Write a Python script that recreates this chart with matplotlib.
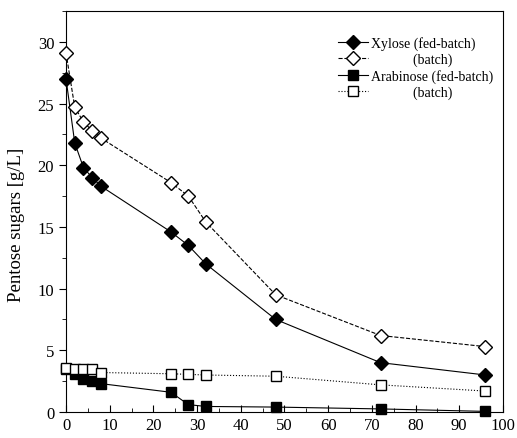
import matplotlib.pyplot as plt
from matplotlib.ticker import MultipleLocator

# sampling times [h]
time = [0, 2, 4, 6, 8, 24, 28, 32, 48, 72, 96]

# pentose sugars [g/L]
xylose_fed = [27.0, 21.8, 19.8, 19.0, 18.3, 14.6, 13.5, 12.0, 7.5, 4.0, 3.0]
xylose_batch = [29.1, 24.7, 23.5, 22.8, 22.2, 18.6, 17.5, 15.4, 9.5, 6.2, 5.3]
arabinose_fed = [3.5, 3.1, 2.7, 2.5, 2.3, 1.6, 0.6, 0.45, 0.4, 0.25, 0.05]
arabinose_batch = [3.6, 3.5, 3.5, 3.5, 3.2, 3.1, 3.05, 3.0, 2.9, 2.2, 1.7]

plt.rcParams['font.family'] = ['Liberation Serif', 'DejaVu Serif']

fig = plt.figure(figsize=(5.17, 4.39), dpi=100)
ax = fig.add_axes([0.1277, 0.0592, 0.845, 0.9135])

pad = ' ' * 12
ax.plot(time, xylose_fed, 'k-', marker='D', ms=7.5, mfc='k', lw=0.8,
        clip_on=False, zorder=3, label='Xylose (fed-batch)')
ax.plot(time, xylose_batch, 'k--', marker='D', ms=7.5, mfc='white', lw=0.8,
        clip_on=False, zorder=3, label=pad + '(batch)')
ax.plot(time, arabinose_fed, 'k-', marker='s', ms=6.5, mfc='k', lw=0.8,
        clip_on=False, zorder=3, label='Arabinose (fed-batch)')
ax.plot(time, arabinose_batch, 'k:', marker='s', ms=6.5, mfc='white', lw=0.8,
        clip_on=False, zorder=3, label=pad + '(batch)')

ax.set_xlim(0, 100)
ax.set_ylim(0, 32.5)
ax.xaxis.set_major_locator(MultipleLocator(10))
ax.xaxis.set_minor_locator(MultipleLocator(5))
ax.yaxis.set_major_locator(MultipleLocator(5))
ax.yaxis.set_minor_locator(MultipleLocator(2.5))
ax.tick_params(which='both', labelsize=12)
ax.tick_params(axis='x', which='both', direction='in')
ax.tick_params(axis='y', which='both', direction='out')
ax.tick_params(which='major', length=5)
ax.tick_params(which='minor', length=3)
ax.set_ylabel('Pentose sugars [g/L]', fontsize=13.5)
ax.yaxis.set_label_coords(-0.094, 0.47)

ax.legend(loc='upper left', frameon=False, fontsize=10, handlelength=2.2,
          handletextpad=0.2, labelspacing=0.2, borderpad=0, borderaxespad=0,
          bbox_to_anchor=(0.622, 0.938))

fig.savefig('out.png', dpi=100)
